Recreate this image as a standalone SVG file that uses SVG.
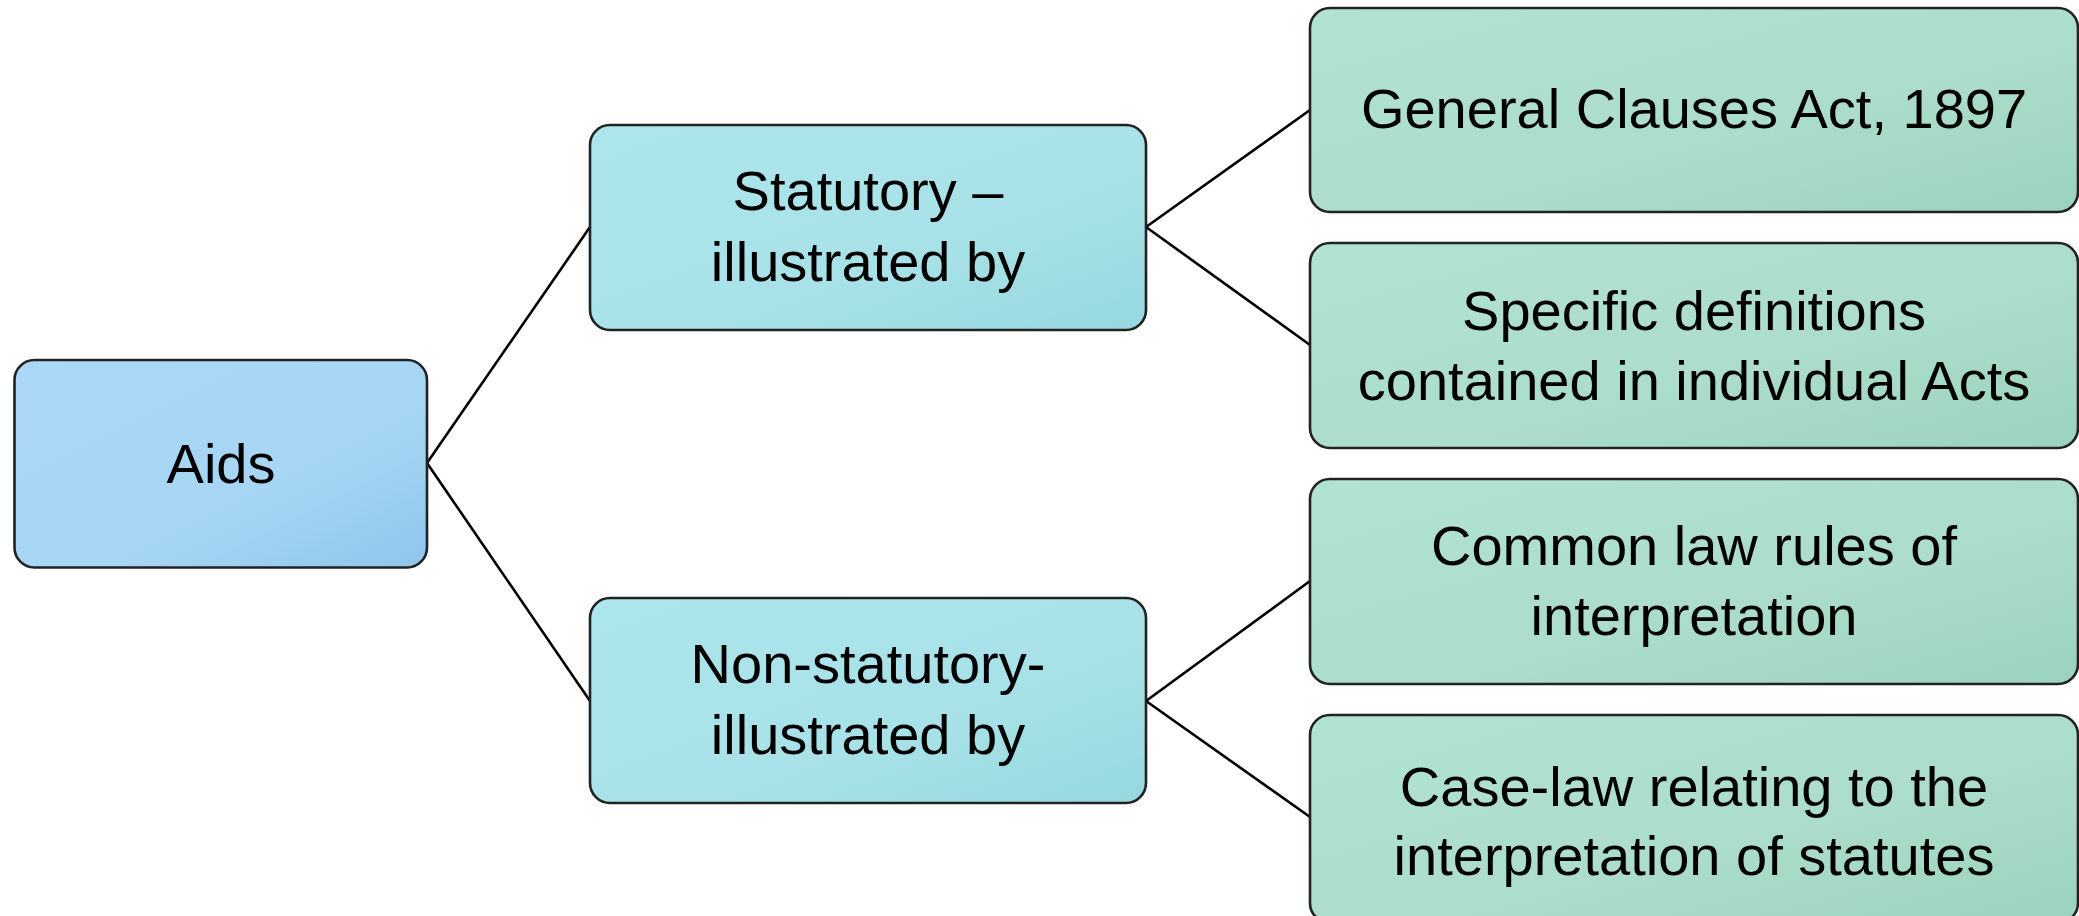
<svg xmlns="http://www.w3.org/2000/svg" width="2079" height="916" viewBox="0 0 2079 916">
  <defs>
    <linearGradient id="gBlue" x1="0" y1="0" x2="1" y2="1">
      <stop offset="0" stop-color="#AAD8F6"/>
      <stop offset="0.6" stop-color="#A6D6F4"/>
      <stop offset="1" stop-color="#8FC6EC"/>
    </linearGradient>
    <linearGradient id="gCyan" x1="0" y1="0" x2="1" y2="1">
      <stop offset="0" stop-color="#ACE5EC"/>
      <stop offset="0.6" stop-color="#A8E2E8"/>
      <stop offset="1" stop-color="#95D8DE"/>
    </linearGradient>
    <linearGradient id="gGreen" x1="0" y1="0" x2="1" y2="1">
      <stop offset="0" stop-color="#B1E3D3"/>
      <stop offset="0.6" stop-color="#ACDCCB"/>
      <stop offset="1" stop-color="#9AD3BE"/>
    </linearGradient>
  </defs>
  <style>
    .box { stroke: #222222; stroke-width: 2.6; }
    .blue { fill: url(#gBlue); }
    .cyan { fill: url(#gCyan); }
    .green { fill: url(#gGreen); }
    .t { font-family: "Liberation Sans", Arial, sans-serif; font-size: 56px; fill: #000; text-anchor: middle; }
    .conn line { stroke: #000; stroke-width: 2.6; }
  </style>
  <rect width="2079" height="916" fill="#FFFFFF"/>

  <g id="connectors" class="conn">
    <line x1="427" y1="463" x2="590" y2="227"/>
    <line x1="427" y1="463" x2="590" y2="701"/>
    <line x1="1146" y1="227" x2="1310" y2="110"/>
    <line x1="1146" y1="227" x2="1310" y2="345"/>
    <line x1="1146" y1="701" x2="1310" y2="581"/>
    <line x1="1146" y1="701" x2="1310" y2="817"/>
  </g>

  <g id="aids">
    <rect class="box blue" x="14.5" y="360" width="412.5" height="207.5" rx="20"/>
    <text class="t" x="221" y="483">Aids</text>
  </g>

  <g id="statutory">
    <rect class="box cyan" x="590" y="125" width="556" height="205" rx="20"/>
    <text class="t" x="868" y="210">Statutory –</text>
    <text class="t" x="868" y="281">illustrated by</text>
  </g>

  <g id="nonstatutory">
    <rect class="box cyan" x="590" y="598" width="556" height="205" rx="20"/>
    <text class="t" x="868" y="683">Non-statutory-</text>
    <text class="t" x="868" y="754">illustrated by</text>
  </g>

  <g id="general-clauses">
    <rect class="box green" x="1310" y="8" width="768" height="204" rx="20"/>
    <text class="t" x="1694" y="128">General Clauses Act, 1897</text>
  </g>

  <g id="specific-definitions">
    <rect class="box green" x="1310" y="243" width="768" height="205" rx="20"/>
    <text class="t" x="1694" y="330">Specific definitions</text>
    <text class="t" x="1694" y="400">contained in individual Acts</text>
  </g>

  <g id="common-law">
    <rect class="box green" x="1310" y="479" width="768" height="205" rx="20"/>
    <text class="t" x="1694" y="565">Common law rules of</text>
    <text class="t" x="1694" y="635">interpretation</text>
  </g>

  <g id="case-law">
    <rect class="box green" x="1310" y="715" width="768" height="208" rx="20"/>
    <text class="t" x="1694" y="806">Case-law relating to the</text>
    <text class="t" x="1694" y="875">interpretation of statutes</text>
  </g>
</svg>
